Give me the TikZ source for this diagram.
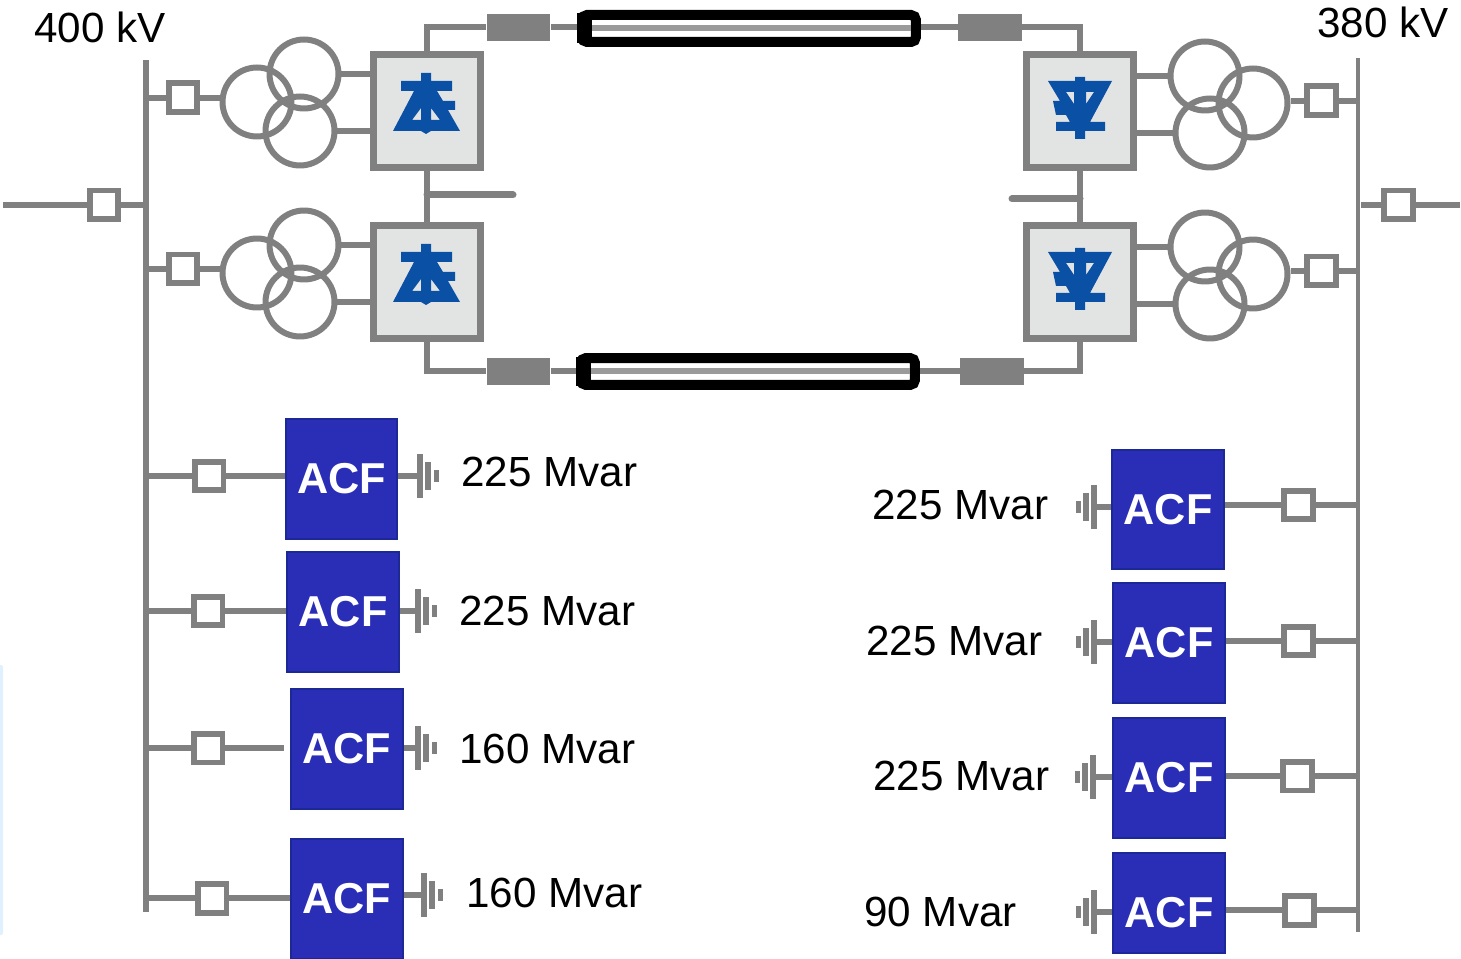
\documentclass[tikz,border=0pt]{standalone}
\usepackage{fontspec}
\setmainfont{Liberation Sans}
\usetikzlibrary{shapes,arrows,arrows.meta}
\definecolor{linegray}{RGB}{128,128,128}
\definecolor{acfblue}{RGB}{42,46,182}
\definecolor{acfedge}{RGB}{28,40,150}
\definecolor{valveblue}{RGB}{10,80,165}
\definecolor{boxgray}{RGB}{226,228,228}
\newcommand{\valveup}[2]{\fill [valveblue,even odd rule,shift={(#1,#2)}] (-5,-30) -- (5,-30) -- (5,-22) -- (26,-22) -- (26,-12) -- (11,-12) -- (17,-2) -- (29,-2) -- (29,7) -- (22,7) -- (34,28) -- (5,28) -- (0,31) -- (-5,28) -- (-33,28) -- (-12,-12) -- (-25,-12) -- (-25,-22) -- (-5,-22) -- cycle (-5,5) -- (-5,17) -- (-14,17) -- cycle (5,5) -- (5,17) -- (14,17) -- cycle;}
\newcommand{\valvedown}[2]{\fill [valveblue,even odd rule,shift={(#1,#2)}] (-5,-30) -- (5,-30) -- (5,-26) -- (32,-26) -- (10,15) -- (25,15) -- (25,24) -- (5,24) -- (5,32) -- (-5,32) -- (-5,24) -- (-24,24) -- (-24,15) -- (-10,15) -- (-14,8) -- (-24,8) -- (-27,-6) -- (-20,-6) -- (-32,-26) -- (-5,-26) -- cycle (-14,-15) -- (-6,-15) -- (-6,-3) -- cycle (14,-15) -- (6,-15) -- (6,-3) -- cycle;}
\newcommand{\capstack}[4]{\coordinate (#1) at (#2,#3);
	\draw [line width=0.13cm,linegray] (#2,#3-22) -- (#2,#3+22);
	\draw [line width=0.11cm,linegray] ({#2+8*#4},#3-14) -- ({#2+8*#4},#3+14);
	\draw [line width=0.10cm,linegray] ({#2+16*#4},#3-6) -- ({#2+16*#4},#3+6);}

\begin{document}
\begin{tikzpicture}[x=0.02cm,y=-0.02cm]
	\tikzstyle{every node}=[inner sep=0pt]
	\tikzstyle{wire}=[line width=0.12cm,linegray]
	\tikzstyle{bus}=[fill=linegray,minimum width=0.11cm]
	\tikzstyle{breaker}=[draw=linegray,line width=0.12cm,fill=white,minimum size=0.58cm]
	\tikzstyle{winding}=[circle,draw=linegray,line width=0.12cm,minimum size=1.38cm]
	\tikzstyle{converter}=[draw=linegray,line width=0.14cm,fill=boxgray,minimum width=2.14cm,minimum height=2.26cm]
	\tikzstyle{reactor}=[fill=linegray,minimum width=1.28cm,minimum height=0.54cm]
	\tikzstyle{cable}=[draw=black,line width=0.2cm,fill=white,rounded corners=0.1cm,minimum width=6.68cm,minimum height=0.54cm]
	\tikzstyle{cablecore}=[line width=0.12cm,linegray!80]
	\tikzstyle{acf}=[draw=acfedge,line width=0.04cm,fill=acfblue,text=white,font=\fontsize{24.6}{28}\selectfont\bfseries,minimum width=2.24cm,minimum height=2.4cm]
	\tikzstyle{rating}=[font=\fontsize{24}{28}\selectfont,anchor=west]

	\useasboundingbox (0,0) rectangle (1461,959);
	\fill [blue!50!cyan!12,rounded corners=0.04cm] (-4,665) rectangle (3,935);

	\node [font=\fontsize{24}{28}\selectfont] (volt400) at (100,27) {400 kV};
	\node [font=\fontsize{24}{28}\selectfont] (volt380) at (1383,22) {380 kV};

	\node [bus,minimum height=17.06cm] (busL) at (146,486) {};
	\node [bus,minimum width=0.09cm,minimum height=17.5cm] (busR) at (1358,495) {};

	\coordinate (feedL) at (3,205);
	\coordinate (feedR) at (1460,205);
	\node [breaker] (brkFL) at (104,205) {};
	\node [breaker] (brkFR) at (1398,205) {};
	\draw [wire] (feedL) -- (brkFL.west);
	\draw [wire] (brkFL.east) -- (brkFL.east -| busL.west);
	\draw [wire] (feedR) -- (brkFR.east);
	\draw [wire] (brkFR.west) -- (brkFR.west -| busR.east);

	\node [converter] (convA) at (427,111) {};
	\node [converter] (convB) at (427,282) {};
	\node [converter] (convC) at (1080,111) {};
	\node [converter] (convD) at (1080,282) {};
	\valveup{426}{103}
	\valveup{426}{274}
	\valvedown{1080}{107}
	\valvedown{1080}{278}

	\node [breaker] (brkA) at (183,98) {};
	\node [breaker] (brkB) at (183,269) {};
	\node [breaker] (brkC) at (1321,101) {};
	\node [breaker] (brkD) at (1321,271) {};

	\node [winding] (twA1) at (257,102) {};
	\node [winding] (twA2) at (304,74) {};
	\node [winding] (twA3) at (300,131) {};
	\node [winding] (twB1) at (257,273) {};
	\node [winding] (twB2) at (304,245) {};
	\node [winding] (twB3) at (300,302) {};
	\node [winding] (twC1) at (1253,103) {};
	\node [winding] (twC2) at (1205,76) {};
	\node [winding] (twC3) at (1210,133) {};
	\node [winding] (twD1) at (1253,274) {};
	\node [winding] (twD2) at (1205,247) {};
	\node [winding] (twD3) at (1210,304) {};

	\draw [wire] (brkA.west) -- (brkA.west -| busL);
	\draw [wire] (brkA.east) -- (brkA.east -| twA1.west);
	\draw [wire] (brkB.west) -- (brkB.west -| busL);
	\draw [wire] (brkB.east) -- (brkB.east -| twB1.west);
	\draw [wire] (brkC.east) -- (brkC.east -| busR);
	\draw [wire] (brkC.west) -- (brkC.west -| twC1.east);
	\draw [wire] (brkD.east) -- (brkD.east -| busR);
	\draw [wire] (brkD.west) -- (brkD.west -| twD1.east);

	\draw [wire] (twA2.east) -- (twA2.east -| convA.west);
	\draw [wire] (twA3.east) -- (twA3.east -| convA.west);
	\draw [wire] (twB2.east) -- (twB2.east -| convB.west);
	\draw [wire] (twB3.east) -- (twB3.east -| convB.west);
	\draw [wire] (twC2.west) -- (twC2.west -| convC.east);
	\draw [wire] (twC3.west) -- (twC3.west -| convC.east);
	\draw [wire] (twD2.west) -- (twD2.west -| convD.east);
	\draw [wire] (twD3.west) -- (twD3.west -| convD.east);

	\node [reactor] (lrA) at (518.5,27.5) {};
	\node [reactor] (lrB) at (518.5,371.5) {};
	\node [reactor] (lrC) at (990,27.5) {};
	\node [reactor] (lrD) at (992,371.5) {};
	\node [cable] (cableT) at (749,28.5) {};
	\node [cable] (cableB) at (748,371.5) {};
	\fill [black] (cableT.west) rectangle ([xshift=0.3cm,yshift=-0.3cm]cableT.west);
	\fill [black] (cableT.west) rectangle ([xshift=0.3cm,yshift=0.3cm]cableT.west);
	\fill [black] (cableB.west) rectangle ([xshift=0.3cm,yshift=-0.3cm]cableB.west);
	\fill [black] (cableB.west) rectangle ([xshift=0.3cm,yshift=0.3cm]cableB.west);
	\draw [cablecore] ([xshift=0.3cm]cableT.west) -- ([xshift=-0.2cm]cableT.east);
	\draw [cablecore] ([xshift=0.3cm]cableB.west) -- ([xshift=-0.2cm]cableB.east);

	\draw [wire] (convA.north) |- (lrA.west);
	\draw [wire] (convB.south) |- (lrB.west);
	\draw [wire] (convC.north) |- (lrC.east);
	\draw [wire] (convD.south) |- (lrD.east);
	\draw [wire] (lrA.east) -- (lrA.east -| cableT.west);
	\draw [wire] (lrB.east) -- (lrB.east -| cableB.west);
	\draw [wire] (lrC.west) -- (lrC.west -| cableT.east);
	\draw [wire] (lrD.west) -- (lrD.west -| cableB.east);

	\coordinate (stubL) at (513,195);
	\coordinate (stubR) at (1012,199);
	\draw [wire] (convA.south) -- (convB.north);
	\draw [wire] (convC.south) -- (convD.north);
	\draw [wire,line width=0.14cm,line cap=round] (convA.south |- stubL) -- (stubL);
	\draw [wire,line width=0.14cm,line cap=round] (convC.south |- stubR) -- (stubR);

	\node [acf] (acfA) at (341.5,479) {ACF};
	\node [acf] (acfB) at (343,612) {ACF};
	\node [acf] (acfC) at (347,749) {ACF};
	\node [acf] (acfD) at (347,899) {ACF};
	\node [acf] (acfE) at (1168,509.5) {ACF};
	\node [acf] (acfF) at (1169,643) {ACF};
	\node [acf] (acfG) at (1169,778) {ACF};
	\node [acf,minimum height=2cm,text height=28pt] (acfH) at (1169,903) {ACF};

	\node [breaker] (brkE) at (209,476) {};
	\node [breaker] (brkF) at (208,611) {};
	\node [breaker] (brkG) at (208,748) {};
	\node [breaker] (brkH) at (212,898) {};
	\node [breaker] (brkI) at (1298,505) {};
	\node [breaker] (brkJ) at (1298,641) {};
	\node [breaker] (brkK) at (1297,776) {};
	\node [breaker] (brkL) at (1299,910) {};

	\draw [wire] (brkE.west) -- (brkE.west -| busL);
	\draw [wire] (brkF.west) -- (brkF.west -| busL);
	\draw [wire] (brkG.west) -- (brkG.west -| busL);
	\draw [wire] (brkH.west) -- (brkH.west -| busL);
	\draw [wire] (brkE.east) -- (brkE.east -| acfA.west);
	\draw [wire] (brkF.east) -- (brkF.east -| acfB.west);
	\draw [wire] (brkG.east) -- (284,748);
	\draw [wire] (brkH.east) -- (brkH.east -| acfD.west);
	\draw [wire] (brkI.east) -- (brkI.east -| busR);
	\draw [wire] (brkJ.east) -- (brkJ.east -| busR);
	\draw [wire] (brkK.east) -- (brkK.east -| busR);
	\draw [wire] (brkL.east) -- (brkL.east -| busR);
	\draw [wire] (brkI.west) -- (brkI.west -| acfE.east);
	\draw [wire] (brkJ.west) -- (brkJ.west -| acfF.east);
	\draw [wire] (brkK.west) -- (brkK.west -| acfG.east);
	\draw [wire] (brkL.west) -- (brkL.west -| acfH.east);

	\capstack{gndA}{420}{476}{1}
	\capstack{gndB}{418}{611}{1}
	\capstack{gndC}{418}{748}{1}
	\capstack{gndD}{424}{895}{1}
	\capstack{gndE}{1094}{507}{-1}
	\capstack{gndF}{1094}{642}{-1}
	\capstack{gndG}{1093}{777}{-1}
	\capstack{gndH}{1094}{912}{-1}
	\draw [wire] (acfA.east |- gndA) -- (gndA);
	\draw [wire] (acfB.east |- gndB) -- (gndB);
	\draw [wire] (acfC.east |- gndC) -- (gndC);
	\draw [wire] (acfD.east |- gndD) -- (gndD);
	\draw [wire] (acfE.west |- gndE) -- (gndE);
	\draw [wire] (acfF.west |- gndF) -- (gndF);
	\draw [wire] (acfG.west |- gndG) -- (gndG);
	\draw [wire] (acfH.west |- gndH) -- (gndH);

	\node [rating] (mvarA) at (461,472) {225 Mvar};
	\node [rating] (mvarB) at (459,611) {225 Mvar};
	\node [rating] (mvarC) at (459,749) {160 Mvar};
	\node [rating] (mvarD) at (466,893) {160 Mvar};
	\node [rating] (mvarE) at (872,505) {225 Mvar};
	\node [rating] (mvarF) at (866,641) {225 Mvar};
	\node [rating] (mvarG) at (873,776) {225 Mvar};
	\node [rating] (mvarH) at (864,912) {90 Mvar};

\end{tikzpicture}
\end{document}
